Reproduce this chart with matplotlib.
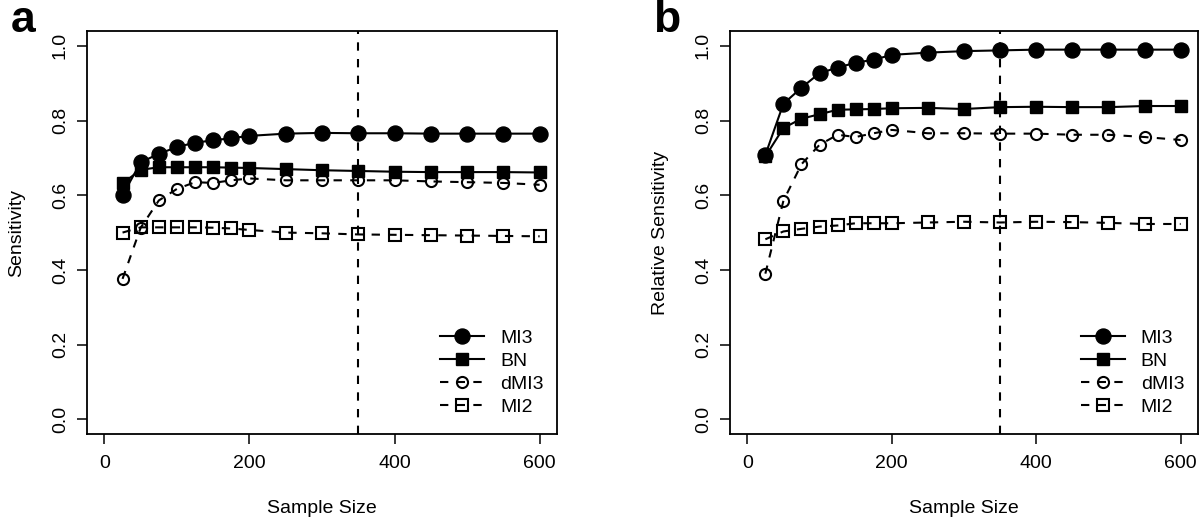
import numpy as np
import matplotlib
matplotlib.use("Agg")
import matplotlib.pyplot as plt

plt.rcParams['font.family'] = ['Liberation Sans', 'DejaVu Sans']

# sample sizes shared by both panels
sizes = [25, 50, 75, 100, 125, 150, 175, 200, 250, 300, 350, 400, 450, 500, 550, 600]

# panel a: sensitivity
mi3_a = [0.600, 0.688, 0.711, 0.729, 0.741, 0.747, 0.753, 0.759, 0.765, 0.767, 0.766, 0.766, 0.765, 0.765, 0.765, 0.765]
bn_a = [0.632, 0.668, 0.675, 0.675, 0.675, 0.675, 0.674, 0.673, 0.670, 0.667, 0.665, 0.663, 0.662, 0.662, 0.662, 0.661]
dmi3_a = [0.376, 0.513, 0.586, 0.617, 0.635, 0.633, 0.640, 0.645, 0.640, 0.640, 0.640, 0.640, 0.637, 0.635, 0.633, 0.628]
mi2_a = [0.500, 0.514, 0.514, 0.514, 0.514, 0.513, 0.511, 0.507, 0.500, 0.498, 0.495, 0.494, 0.493, 0.492, 0.491, 0.490]

# panel b: relative sensitivity
mi3_b = [0.708, 0.845, 0.888, 0.927, 0.942, 0.955, 0.963, 0.976, 0.982, 0.986, 0.988, 0.990, 0.990, 0.990, 0.990, 0.990]
bn_b = [0.704, 0.780, 0.805, 0.817, 0.829, 0.830, 0.831, 0.833, 0.834, 0.831, 0.836, 0.837, 0.836, 0.836, 0.839, 0.839]
dmi3_b = [0.390, 0.585, 0.683, 0.735, 0.762, 0.756, 0.766, 0.775, 0.766, 0.766, 0.765, 0.765, 0.762, 0.762, 0.756, 0.748]
mi2_b = [0.482, 0.503, 0.510, 0.516, 0.519, 0.525, 0.525, 0.525, 0.527, 0.529, 0.527, 0.529, 0.528, 0.526, 0.523, 0.523]

cutoff = 350
labels = ['MI3', 'BN', 'dMI3', 'MI2']
fs = 14


def draw_panel(ax, mi3, bn, dmi3, mi2, ylabel, letter):
    lw = 1.5
    ax.plot(sizes, mi3, '-o', color='black', lw=lw, ms=10.8, label=labels[0])
    ax.plot(sizes, bn, '-s', color='black', lw=lw, ms=8, label=labels[1])
    ax.plot(sizes, dmi3, 'o', ls=(0, (4, 4)), color='black', lw=lw, ms=8,
            mfc='none', mew=1.5, label=labels[2])
    ax.plot(sizes, mi2, 's', ls=(0, (4, 4)), color='black', lw=lw, ms=8,
            mfc='none', mew=1.5, label=labels[3])
    ax.axvline(cutoff, color='black', lw=1.5, ls=(0, (4, 4)))

    ax.set_xlim(-24, 624)
    ax.set_ylim(-0.04, 1.04)
    ax.set_xticks([0, 200, 400, 600])
    ax.set_yticks([0.0, 0.2, 0.4, 0.6, 0.8, 1.0])
    ax.set_yticklabels(['0.0', '0.2', '0.4', '0.6', '0.8', '1.0'],
                       rotation=90, va='center')
    ax.tick_params(direction='out', length=7, width=1.1, labelsize=fs)
    ax.tick_params(axis='x', pad=8)
    ax.tick_params(axis='y', pad=6)
    for sp in ax.spines.values():
        sp.set_linewidth(1.3)
    ax.set_xlabel('Sample Size', fontsize=fs, labelpad=20)
    ax.set_ylabel(ylabel, fontsize=fs, labelpad=19)
    ax.legend(loc='lower right', frameon=False, fontsize=fs,
              handlelength=2.3, labelspacing=0.27, handletextpad=0.8,
              borderaxespad=0.3, bbox_to_anchor=(1.0, 0.012))
    ax.text(-0.135, 1.025, letter, transform=ax.transAxes, fontsize=32,
            fontweight='bold', va='center', ha='center')


fig = plt.figure(figsize=(12, 5.25), dpi=100)
ax1 = fig.add_axes([0.0725, 0.173, 0.3917, 0.768])
ax2 = fig.add_axes([0.6083, 0.173, 0.39, 0.768])
draw_panel(ax1, mi3_a, bn_a, dmi3_a, mi2_a, 'Sensitivity', 'a')
draw_panel(ax2, mi3_b, bn_b, dmi3_b, mi2_b, 'Relative Sensitivity', 'b')

fig.savefig('out.png', dpi=100)
